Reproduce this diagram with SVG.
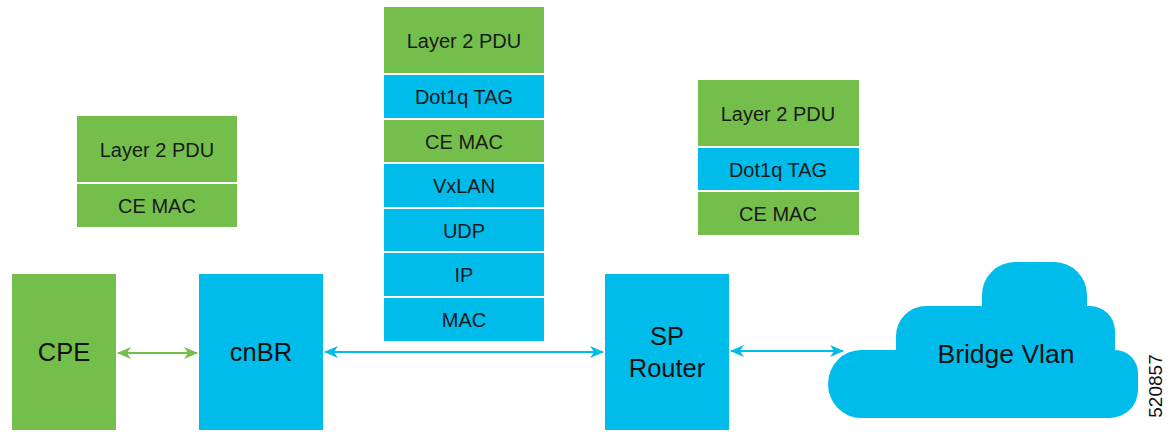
<svg xmlns="http://www.w3.org/2000/svg" width="1174" height="432" viewBox="0 0 1174 432">
<style>
.g{fill:#74BF4B}
.b{fill:#00BCEB}
.t{font-family:"Liberation Sans",Arial,sans-serif;font-size:20px;fill:#1a1a1a;text-anchor:middle}
.big{font-family:"Liberation Sans",Arial,sans-serif;font-size:25.5px;fill:#111;text-anchor:middle}
.lg{stroke:#74BF4B;stroke-width:2;fill:none}
.lb{stroke:#00BCEB;stroke-width:2;fill:none}
</style>
<defs>
<marker id="ag" viewBox="0 0 14 14" refX="13" refY="7" markerWidth="14" markerHeight="14" markerUnits="userSpaceOnUse" orient="auto-start-reverse">
<path d="M0,1 L14,7 L0,13 L4,7 Z" fill="#74BF4B"/>
</marker>
<marker id="ab" viewBox="0 0 14 14" refX="13" refY="7" markerWidth="14" markerHeight="14" markerUnits="userSpaceOnUse" orient="auto-start-reverse">
<path d="M0,1 L14,7 L0,13 L4,7 Z" fill="#00BCEB"/>
</marker>
</defs>
<rect width="1174" height="432" fill="#fff"/>

<g id="stack-left">
<rect class="g" x="77" y="116" width="160" height="66"/>
<text class="t" x="157" y="157">Layer 2 PDU</text>
<rect class="g" x="77" y="184" width="160" height="43"/>
<text class="t" x="157" y="213">CE MAC</text>
</g>

<g id="stack-center">
<rect class="g" x="384" y="7" width="160" height="66"/>
<text class="t" x="464" y="48">Layer 2 PDU</text>
<rect class="b" x="384" y="75" width="160" height="43"/>
<text class="t" x="464" y="104">Dot1q TAG</text>
<rect class="g" x="384" y="120" width="160" height="42"/>
<text class="t" x="464" y="149">CE MAC</text>
<rect class="b" x="384" y="164" width="160" height="43"/>
<text class="t" x="464" y="193">VxLAN</text>
<rect class="b" x="384" y="209" width="160" height="42"/>
<text class="t" x="464" y="238">UDP</text>
<rect class="b" x="384" y="253" width="160" height="43"/>
<text class="t" x="464" y="282">IP</text>
<rect class="b" x="384" y="298" width="160" height="43"/>
<text class="t" x="464" y="327">MAC</text>
</g>

<g id="stack-right">
<rect class="g" x="698" y="80" width="161" height="66"/>
<text class="t" x="778" y="121">Layer 2 PDU</text>
<rect class="b" x="698" y="148" width="161" height="42"/>
<text class="t" x="778" y="177">Dot1q TAG</text>
<rect class="g" x="698" y="192" width="161" height="43"/>
<text class="t" x="778" y="221">CE MAC</text>
</g>

<g id="cpe">
<rect class="g" x="12" y="274" width="104" height="156"/>
<text class="big" x="64" y="361">CPE</text>
</g>

<g id="cnbr">
<rect class="b" x="199" y="274" width="124" height="156"/>
<text class="big" x="261" y="361">cnBR</text>
</g>

<g id="sp-router">
<rect class="b" x="605" y="274" width="124" height="156"/>
<text class="big" x="667" y="345">SP</text>
<text class="big" x="667" y="377">Router</text>
</g>

<g id="bridge-vlan">
<path class="b" d="M861,418 A33,34 0 0 1 861,350 L896,350 L896,336 A30,30 0 0 1 926,306 L982,306 L982,295 A33,33 0 0 1 1015,262 L1054,262 A33,33 0 0 1 1087,295 L1087,306 L1090,306 A25,25 0 0 1 1115,331 L1115,350 A23,23 0 0 1 1138,373 L1138,390 A28,28 0 0 1 1110,418 Z"/>
<text class="big" x="1006" y="363" style="font-size:26.5px">Bridge Vlan</text>
</g>

<g id="connectors">
<line class="lg" x1="118" y1="353" x2="197" y2="353" marker-start="url(#ag)" marker-end="url(#ag)"/>
<line class="lb" x1="325" y1="352" x2="603" y2="352" marker-start="url(#ab)" marker-end="url(#ab)"/>
<line class="lb" x1="731" y1="351" x2="843" y2="351" marker-start="url(#ab)" marker-end="url(#ab)"/>
</g>

<text x="1162" y="386" transform="rotate(-90 1162 386)" style="font-family:'Liberation Sans',Arial,sans-serif;font-size:19px;fill:#111;text-anchor:middle">520857</text>
</svg>
